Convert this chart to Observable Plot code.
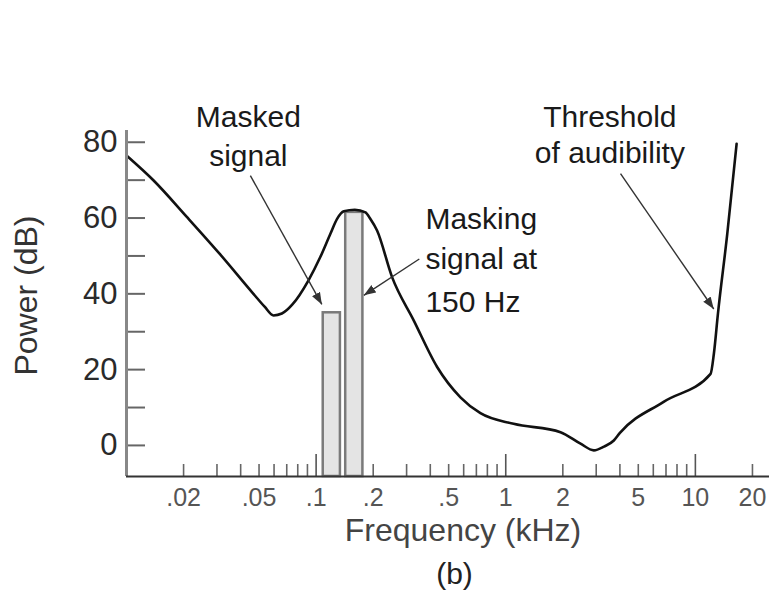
<!DOCTYPE html>
<html><head><meta charset="utf-8">
<script src="https://cdn.jsdelivr.net/npm/d3@7"></script>
<script src="https://cdn.jsdelivr.net/npm/@observablehq/plot@0.6"></script>
<style>html,body{margin:0;padding:0;background:#fff;}</style>
</head><body><div id="chart"></div>
<script>
// Threshold-of-audibility curve: frequency (kHz) and power (dB)
const curveFreq = [0.01, 0.0139, 0.0208, 0.0312, 0.0467, 0.0535, 0.0596, 0.066, 0.075, 0.091, 0.1052, 0.1188, 0.129, 0.140, 0.160, 0.182, 0.193, 0.2096, 0.2515, 0.327, 0.4346, 0.5768, 0.7354, 1.10, 1.944, 2.48, 2.914, 3.3, 3.715, 4.0, 6.8, 12.03, 12.52, 13.15, 14.73, 16.5];
const curveDb   = [76.5, 69.9, 60.3, 50.4, 40.0, 36.6, 34.3, 34.8, 37.2, 43.5, 49.7, 55.8, 59.8, 61.8, 62.2, 61.5, 59.8, 56.7, 44.4, 33.0, 20.7, 12.7, 8.5, 5.7, 3.5, 0.45, -1.3, -0.3, 1.3, 3.3, 11.5, 18.9, 24.2, 34.7, 55.8, 79.6];

// Signals (bars)
const signalNames = ["Masked signal", "Masking signal"];
const signalFreq  = [0.121, 0.159];
const signalDb    = [35, 61.5];

// Axis ticks
const yTickValues  = [0, 10, 20, 30, 40, 50, 60, 70, 80];
const yLabelValues = [0, 20, 40, 60, 80];
const xMinorTicks  = [0.02,0.03,0.04,0.05,0.06,0.07,0.08,0.09, 0.2,0.3,0.4,0.5,0.6,0.7,0.8,0.9, 2,3,4,5,6,7,8,9, 20];
const xMajorTicks  = [0.1, 1, 10];
const xLabelValues = [0.02, 0.05, 0.1, 0.2, 0.5, 1, 2, 5, 10, 20];
const xLabelTexts  = [".02", ".05", ".1", ".2", ".5", "1", "2", "5", "10", "20"];

// Annotation text lines (anchored in data units)
const noteLines = ["Masked", "signal", "Threshold", "of audibility", "Masking", "signal at", "150 Hz"];
const noteFreq  = [0.0439, 0.0439, 3.54, 3.54, 0.377, 0.377, 0.377];
const noteDb    = [86.5, 76.3, 86.5, 77.1, 59.6, 49.0, 37.7];
const noteAlign = ["middle", "middle", "middle", "middle", "start", "start", "start"];

// Annotation arrows
const arrowFromFreq = [0.0450, 0.350, 4.03];
const arrowFromDb   = [71.2, 49.2, 71.7];
const arrowToFreq   = [0.1072, 0.1785, 12.5];
const arrowToDb     = [37.2, 39.6, 36.0];

const curve = curveFreq.map((f, i) => ({f, db: curveDb[i]}));
const band = 1.11;
const signals = signalNames.map((name, i) => ({name, lo: signalFreq[i] / band, hi: signalFreq[i] * band, db: signalDb[i]}));
const xLabels = xLabelValues.map((v, i) => ({v, t: xLabelTexts[i]}));
const notes = noteLines.map((t, i) => ({t, f: noteFreq[i], db: noteDb[i], a: noteAlign[i]}));
const arrows = arrowFromFreq.map((f, i) => ({f1: f, d1: arrowFromDb[i], f2: arrowToFreq[i], d2: arrowToDb[i]}));

const X_DOMAIN = [0.01, 24.6];
const Y_DOMAIN = [-8.2, 83.1];
const FONT = "'Liberation Sans', Arial, Helvetica, sans-serif";

function filledArrow(color, context) {
  const m = d3.create("svg:marker")
    .attr("viewBox", "-12 -5 12 10")
    .attr("markerWidth", 12)
    .attr("markerHeight", 10)
    .attr("markerUnits", "userSpaceOnUse")
    .attr("refX", 0).attr("refY", 0)
    .attr("orient", "auto")
    .attr("fill", color)
    .attr("stroke", "none");
  m.append("path").attr("d", "M-12,-4.5L0,0L-12,4.5Z");
  return m.node();
}

function build(marker) {
  return Plot.plot({
    width: 769, height: 594,
    marginLeft: 126, marginRight: 0, marginTop: 130, marginBottom: 118,
    style: {fontFamily: FONT, background: "#fff", overflow: "visible"},
    x: {type: "log", domain: X_DOMAIN, axis: null},
    y: {domain: Y_DOMAIN, axis: null},
    marks: [
      // signal bars
      Plot.rectY(signals, {x1: "lo", x2: "hi", y1: Y_DOMAIN[0], y2: "db", fill: "#e4e4e4", stroke: "#7a7a7a", strokeWidth: 2.5}),
      // threshold curve
      Plot.line(curve, {x: "f", y: "db", stroke: "#111", strokeWidth: 2.6, curve: "monotone-x"}),
      // y ticks
      Plot.ruleY(yTickValues, {stroke: "#666", strokeWidth: 2, insetRight: 643 - 19}),
      // x ticks
      Plot.ruleX(xMinorTicks, {stroke: "#666", strokeWidth: 1.6, insetTop: 346 - 12}),
      Plot.ruleX(xMajorTicks, {stroke: "#555", strokeWidth: 1.6, insetTop: 346 - 22}),
      // axis lines
      Plot.ruleX([X_DOMAIN[0]], {stroke: "#888", strokeWidth: 3}),
      Plot.ruleY([Y_DOMAIN[0]], {stroke: "#333", strokeWidth: 2}),
      // tick labels
      Plot.text(yLabelValues, {y: d => d, text: d => String(d), frameAnchor: "left", textAnchor: "end", lineAnchor: "middle", dx: -9, fontSize: 31, fill: "#2a2a2a"}),
      Plot.text(xLabels, {x: "v", text: "t", frameAnchor: "bottom", textAnchor: "middle", lineAnchor: "middle", dy: 21.5, fontSize: 25, fill: "#555"}),
      // axis titles
      Plot.text(["Power (dB)"], {frameAnchor: "left", textAnchor: "middle", lineAnchor: "middle", rotate: -90, dx: -99.3, dy: -8, fontSize: 32, fill: "#333"}),
      Plot.text(["Frequency (kHz)"], {frameAnchor: "bottom", textAnchor: "middle", lineAnchor: "middle", dx: 15, dy: 54.5, fontSize: 32, fill: "#444"}),
      Plot.text(["(b)"], {frameAnchor: "bottom", textAnchor: "middle", lineAnchor: "middle", dx: 6.5, dy: 97.5, fontSize: 30, fill: "#222"}),
      // annotation arrows
      Plot.link(arrows, {x1: "f1", y1: "d1", x2: "f2", y2: "d2", stroke: "#333", strokeWidth: 1.4, markerEnd: marker}),
      // annotation texts
      Plot.text(notes.filter(d => d.a === "middle"), {x: "f", y: "db", text: "t", textAnchor: "middle", lineAnchor: "middle", fontSize: 30, fill: "#1a1a1a"}),
      Plot.text(notes.filter(d => d.a === "start"), {x: "f", y: "db", text: "t", textAnchor: "start", lineAnchor: "middle", fontSize: 30, fill: "#1a1a1a"})
    ]
  });
}

let chart;
try { chart = build(filledArrow); } catch (e) { chart = build("arrow"); }
document.getElementById("chart").appendChild(chart);
</script>
</body></html>
